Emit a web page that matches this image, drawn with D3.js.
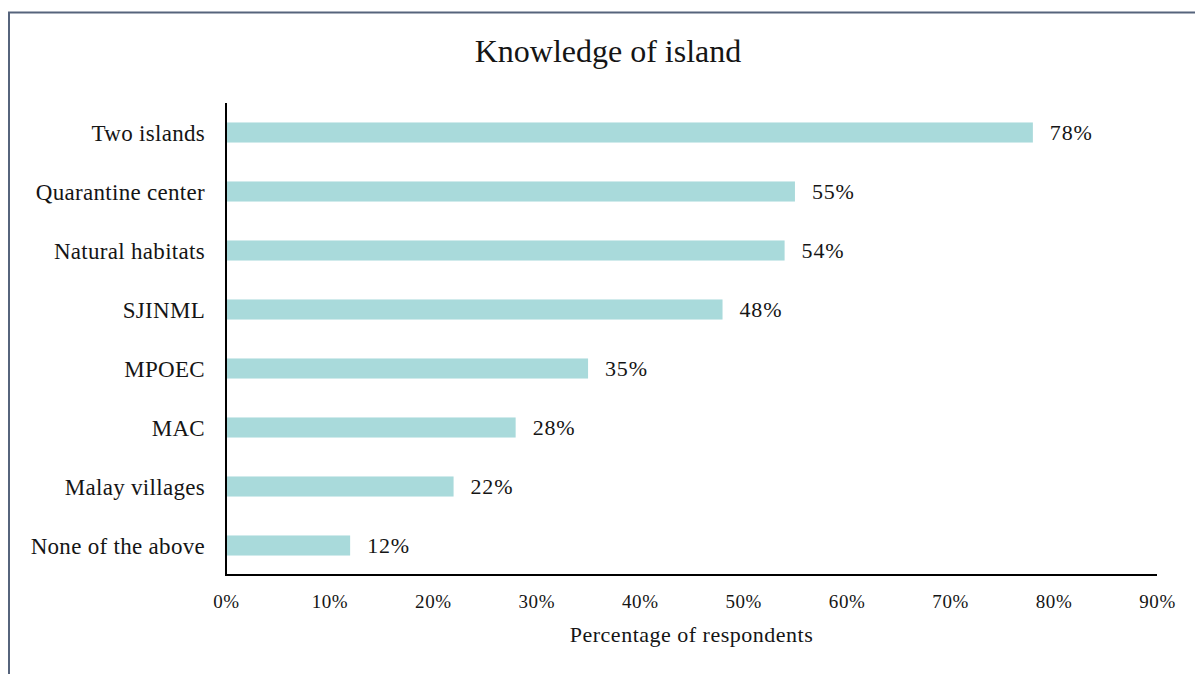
<!DOCTYPE html>
<html>
<head>
<meta charset="utf-8">
<script src="https://cdn.jsdelivr.net/npm/d3@7"></script>
<style>
  html, body { margin: 0; padding: 0; background: #fff; }
  svg text { font-family: "Liberation Serif", "DejaVu Serif", serif; fill: #151515; }
</style>
</head>
<body>
<svg id="chart" width="1195" height="674"></svg>
<script>
const categories = ["Two islands", "Quarantine center", "Natural habitats", "SJINML", "MPOEC", "MAC", "Malay villages", "None of the above"];
const values = [78, 55, 54, 48, 35, 28, 22, 12];
const xTicks = [0, 10, 20, 30, 40, 50, 60, 70, 80, 90];
const title = "Knowledge of island";
const xTitle = "Percentage of respondents";

const svg = d3.select("#chart");
const W = 1195, H = 674;
const FONT = "'Liberation Serif', 'DejaVu Serif', serif";

// outer frame
svg.append("rect")
  .attr("x", 9).attr("y", 12.5)
  .attr("width", W + 10).attr("height", H + 10)
  .attr("fill", "none").attr("stroke", "#56647c").attr("stroke-width", 2);

const m = { left: 226, right: 1157, top: 103, bottom: 575 };

const x = d3.scaleLinear().domain([0, 90]).range([m.left, m.right]);
const y = d3.scaleBand().domain(categories).range([m.top, m.bottom]).paddingInner(0.66).paddingOuter(0.33);

svg.append("text")
  .attr("x", 608).attr("y", 62)
  .attr("text-anchor", "middle")
  .attr("font-size", 32)
  .text(title);

// bars
svg.append("g").selectAll("rect")
  .data(values)
  .join("rect")
  .attr("x", x(0))
  .attr("y", (d, i) => y(categories[i]))
  .attr("width", d => x(d) - x(0))
  .attr("height", y.bandwidth())
  .attr("fill", "#a9dadb");

// value labels
svg.append("g").selectAll("text")
  .data(values)
  .join("text")
  .attr("x", d => x(d) + 17)
  .attr("y", (d, i) => y(categories[i]) + y.bandwidth() / 2)
  .attr("dy", "0.36em")
  .attr("font-size", 22)
  .attr("letter-spacing", 0.8)
  .text(d => d + "%");

// y axis
const yAxis = d3.axisLeft(y).tickSize(0).tickPadding(21);
const gy = svg.append("g").attr("transform", `translate(${m.left},0)`).call(yAxis);
gy.attr("font-family", FONT);
gy.select(".domain").remove();
gy.selectAll("text").attr("font-size", 23).attr("letter-spacing", 0.3).attr("fill", "#151515").attr("dy", "0.36em");
svg.append("line")
  .attr("x1", m.left).attr("x2", m.left)
  .attr("y1", m.top).attr("y2", m.bottom + 1)
  .attr("stroke", "#000").attr("stroke-width", 2);

// x axis
const xAxis = d3.axisBottom(x).tickValues(xTicks).tickSize(0).tickPadding(20).tickFormat(d => d + "%");
const gx = svg.append("g").attr("transform", `translate(0,${m.bottom})`).call(xAxis);
gx.attr("font-family", FONT);
gx.select(".domain").remove();
gx.selectAll("text").attr("font-size", 19).attr("letter-spacing", 0.6).attr("fill", "#222");
svg.append("line")
  .attr("x1", m.left - 1).attr("x2", m.right)
  .attr("y1", m.bottom).attr("y2", m.bottom)
  .attr("stroke", "#000").attr("stroke-width", 2);

svg.append("text")
  .attr("x", (m.left + m.right) / 2).attr("y", 642)
  .attr("text-anchor", "middle")
  .attr("font-size", 22)
  .attr("letter-spacing", 0.5)
  .text(xTitle);
</script>
</body>
</html>
